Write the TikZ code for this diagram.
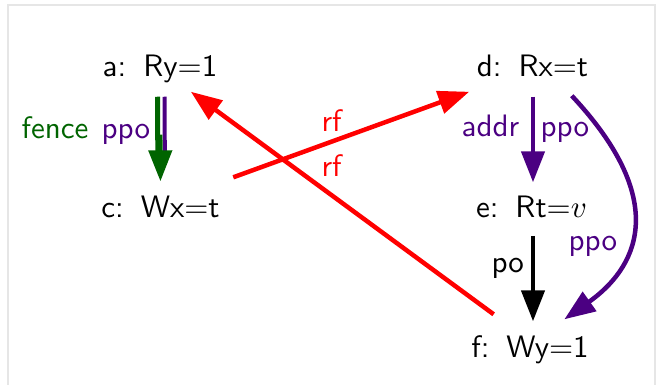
\documentclass[tikz,border=0pt]{standalone}
\usetikzlibrary{arrows.meta}
\definecolor{fgreen}{RGB}{0,100,0}
\definecolor{ppurple}{RGB}{75,0,130}
\definecolor{rred}{RGB}{255,0,0}
\definecolor{framegray}{RGB}{230,230,230}
\newcommand{\evgap}{\hspace{5.5pt}}
\tikzset{
  big/.style={scale=3.1, inner sep=0pt},
  ev/.style={big, anchor=base, text height=6.8pt, text depth=2.3pt},
  lab/.style={big, anchor=base west},
  bigtip/.style={-{Triangle[length=31pt,width=23pt]}},
  vshort/.style={shorten <=12pt, shorten >=14pt},
}
\begin{document}
\begin{tikzpicture}[x=1pt,y=-1pt, font=\sffamily]
\useasboundingbox (0,0) rectangle (659,385);
\draw[framegray, line width=2pt] (8,395) -- (8,5) -- (655,5) -- (655,395);
% events
\node[ev] (a) at (160,77) {a:\evgap Ry$=$1};
\node[ev] (c) at (160.5,218) {c:\evgap Wx$=$t};
\node[ev] (d) at (532.5,77) {d:\evgap Rx$=$t};
\node[ev] (e) at (531.5,218) {e:\evgap Rt${=}v$};
\node[ev] (f) at (530,357) {f:\evgap Wy$=$1};
% a -> c fence/ppo
\draw[ppurple, line width=4pt, shorten <=12pt, shorten >=40pt] ([xshift=4.5pt]a.south) -- ([xshift=4.5pt]c.north);
\draw[fgreen, line width=5pt, shorten <=12pt, shorten >=40pt] ([xshift=-2.5pt]a.south) -- ([xshift=-2.5pt]c.north);
\draw[fgreen, line width=4.5pt, bigtip, shorten <=50pt, shorten >=15pt] (a.south) -- (c.north);
\node[lab, fgreen] (lfence) at (21,139) {fence};
\node[lab, ppurple] (lppo1) at (101,139) {ppo};
% d -> e addr/ppo
\draw[ppurple, line width=4.5pt, bigtip, vshort] ([xshift=0.5pt]d.south) -- ([xshift=1.5pt]e.north);
\node[lab, ppurple] (laddr) at (461,137) {addr};
\node[lab, ppurple] (lppo2) at (540,137) {ppo};
% e -> f po
\draw[black, line width=4.5pt, bigtip, shorten <=10pt, shorten >=14pt] ([xshift=1.5pt]e.south) -- ([xshift=3pt]f.north);
\node[lab] (lpo) at (491,272) {po};
% d -> f ppo curved
\draw[ppurple, line width=4.5pt, bigtip] ([shift={(-17,11)}]d.south east) .. controls (674,205) and (634,270) .. ([shift={(-25,-16)}]f.north east);
\node[lab, ppurple] (lppo3) at (568,250) {ppo};
% rf arrows
\draw[rred, line width=4.5pt, bigtip] ([shift={(13,-19)}]c.north east) -- ([shift={(-7,7)}]d.south west);
\draw[rred, line width=4.5pt, bigtip] ([shift={(23,-21)}]f.north west) -- ([shift={(-27,7)}]a.south east);
\node[lab, rred] (lrf1) at (321,132) {rf};
\node[lab, rred] (lrf2) at (321,177) {rf};
\end{tikzpicture}
\end{document}
